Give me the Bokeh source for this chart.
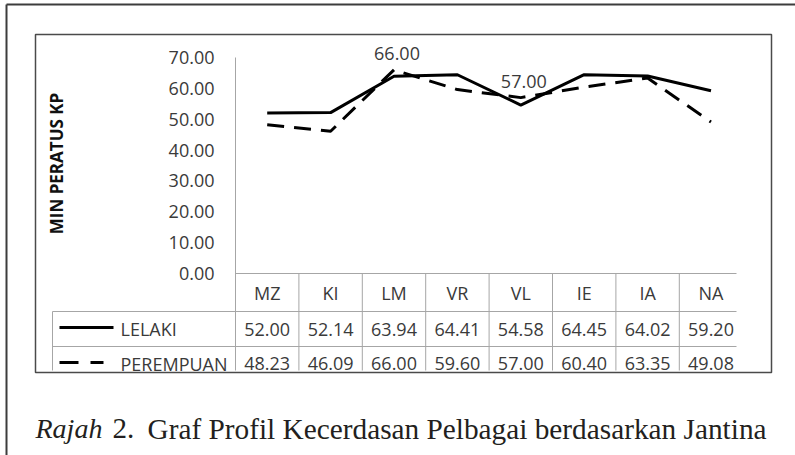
import math
from bokeh.plotting import figure
from bokeh.models import Range1d
from bokeh.core.properties import value
from bokeh.embed import file_html
from bokeh.resources import INLINE

# ---------------- data ----------------
categories = ["MZ", "KI", "LM", "VR", "VL", "IE", "IA", "NA"]
lelaki = [52.00, 52.14, 63.94, 64.41, 54.58, 64.45, 64.02, 59.20]
perempuan = [48.23, 46.09, 66.00, 59.60, 57.00, 60.40, 63.35, 49.08]
series_names = ["LELAKI", "PEREMPUAN"]
y_ticks = [0, 10, 20, 30, 40, 50, 60, 70]
perempuan_labelled = ["LM", "VL"]
y_title = "MIN PERATUS KP"
caption_italic = "Rajah"
caption_number = "2."
caption_text = "Graf Profil Kecerdasan Pelbagai berdasarkan Jantina"

# ---------------- layout (screen px) ----------------
W, H = 795, 455
Y0_PX, Y70_PX = 273.0, 57.0          # pixel rows of value 0 and 70
K = (Y0_PX - Y70_PX) / 70.0           # px per value unit
X0_PX, DX = 266.7, 63.4               # first category centre, column width


def xd(px):
    return (px - X0_PX) / DX


def yd(py):
    return (Y0_PX - py) / K


p = figure(width=W, height=H, output_backend="svg", toolbar_location=None,
           x_range=Range1d(xd(0), xd(W)), y_range=Range1d(yd(H), yd(0)),
           min_border=0)
p.axis.visible = False
p.xgrid.visible = False
p.ygrid.visible = False
p.outline_line_color = None
p.background_fill_color = "white"
p.border_fill_color = "white"

TXT = "#3a3a3a"
GRID = "#a6a6a6"
FONT = value("Open Sans")
n = len(categories)
idx = list(range(n))

# outer frame (left and top edges)
p.segment(x0=[xd(6), xd(6)], y0=[yd(4), yd(4)], x1=[xd(6), xd(W)], y1=[yd(H), yd(4)],
          line_color="#3c3c3c", line_width=2)
# inner chart box
p.quad(left=[xd(35)], right=[xd(771)], top=[yd(34)], bottom=[yd(372)],
       fill_alpha=0, line_color="#4a4a4a", line_width=1.5)

# vertical value-axis line
p.segment(x0=[-0.5], y0=[y_ticks[-1]], x1=[-0.5], y1=[yd(370)], line_color=GRID, line_width=1)

# table grid
row_tops = [yd(311), yd(346)]
p.segment(x0=[-0.5], y0=[0], x1=[xd(736)], y1=[0], line_color=GRID, line_width=1)
p.segment(x0=[xd(52)] * 2, y0=row_tops, x1=[xd(736)] * 2, y1=row_tops,
          line_color=GRID, line_width=1)
p.segment(x0=[i + 0.5 for i in range(n - 1)], y0=[0] * (n - 1),
          x1=[i + 0.5 for i in range(n - 1)], y1=[yd(370)] * (n - 1),
          line_color=GRID, line_width=1)
p.segment(x0=[xd(52)], y0=[yd(311)], x1=[xd(52)], y1=[yd(370)], line_color=GRID, line_width=1)

# y tick labels
p.text(x=[xd(214)] * len(y_ticks), y=y_ticks, text=[f"{t:.2f}" for t in y_ticks],
       text_align="right", text_baseline="middle", text_font=FONT,
       text_font_size=value("18px"), text_color=TXT)

# y title
p.text(x=[xd(56)], y=[yd(163)], text=[y_title], angle=math.pi / 2,
       text_align="center", text_baseline="middle", text_font=FONT,
       text_font_size=value("17px"), text_font_style="bold", text_color="#111111")

# data lines
p.line(x=idx, y=lelaki, line_color="black", line_width=3, line_join="round")
p.line(x=idx, y=perempuan, line_color="black", line_width=3, line_dash="17 10",
       line_join="round")

# data labels for selected points
lab_i = [categories.index(c) for c in perempuan_labelled]
p.text(x=lab_i, y=[perempuan[i] for i in lab_i], text=[f"{perempuan[i]:.2f}" for i in lab_i],
       text_align="center", text_baseline="middle", x_offset=3, y_offset=-16,
       text_font=FONT, text_font_size=value("18px"), text_color=TXT)

# table header and values
p.text(x=idx, y=[yd(292)] * n, text=categories, text_align="center", text_baseline="middle",
       text_font=FONT, text_font_size=value("18px"), text_color=TXT)
p.text(x=idx, y=[yd(328.5)] * n, text=[f"{v:.2f}" for v in lelaki], text_align="center",
       text_baseline="middle", text_font=FONT, text_font_size=value("18px"), text_color=TXT)
p.text(x=idx, y=[yd(363)] * n, text=[f"{v:.2f}" for v in perempuan], text_align="center",
       text_baseline="middle", text_font=FONT, text_font_size=value("18px"), text_color=TXT)

# legend keys in the table
p.line(x=[xd(59), xd(113)], y=[yd(327)] * 2, line_color="black", line_width=3)
p.line(x=[xd(59), xd(103)], y=[yd(362)] * 2, line_color="black", line_width=3,
       line_dash="19 12")
p.text(x=[xd(120)] * 2, y=[yd(328.5), yd(363)], text=series_names, text_align="left",
       text_baseline="middle", text_font=FONT, text_font_size=value("18px"), text_color=TXT)

# caption
SERIF = value("Liberation Serif")
p.text(x=[xd(35)], y=[yd(428)], text=[caption_italic], text_align="left",
       text_baseline="alphabetic", text_font=SERIF, text_font_size=value("28px"),
       text_font_style="italic", text_color="#231f20")
p.text(x=[xd(112)], y=[yd(428)], text=[caption_number], text_align="left",
       text_baseline="alphabetic", text_font=SERIF, text_font_size=value("29px"),
       text_color="#231f20")
p.text(x=[xd(147)], y=[yd(428)], text=[caption_text], text_align="left",
       text_baseline="alphabetic", text_font=SERIF, text_font_size=value("29.3px"),
       text_color="#231f20")

open("out.html", "w").write(file_html(p, INLINE))
